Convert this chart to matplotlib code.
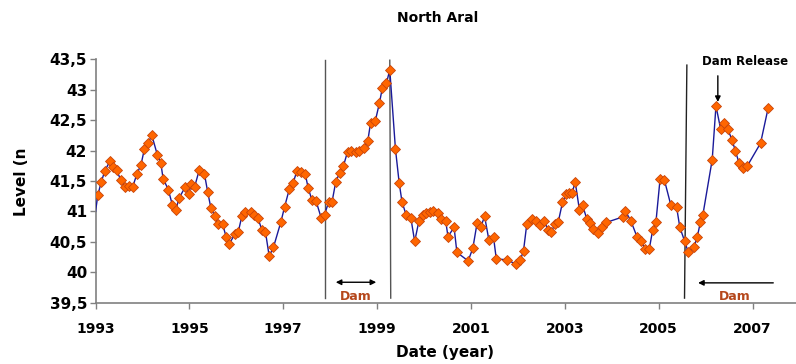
import matplotlib
matplotlib.use("Agg")
import matplotlib.pyplot as plt
from matplotlib.ticker import FixedLocator, FuncFormatter

# ---- data (decimal year, level in m) ----
years = [1993.00, 1993.05, 1993.12, 1993.20, 1993.31, 1993.38, 1993.45, 1993.54, 1993.63, 1993.71,
         1993.79, 1993.88, 1993.97, 1994.04, 1994.12, 1994.20, 1994.32, 1994.39, 1994.44, 1994.55,
         1994.64, 1994.71, 1994.78, 1994.91, 1994.99, 1995.03, 1995.11, 1995.21, 1995.32, 1995.39,
         1995.46, 1995.55, 1995.60, 1995.71, 1995.78, 1995.85, 1995.97, 1996.04, 1996.12, 1996.19,
         1996.31, 1996.38, 1996.46, 1996.55, 1996.62, 1996.70, 1996.79, 1996.95, 1997.03, 1997.13,
         1997.21, 1997.29, 1997.38, 1997.47, 1997.53, 1997.61, 1997.70, 1997.81, 1997.88, 1997.97,
         1998.04, 1998.12, 1998.20, 1998.28, 1998.37, 1998.45, 1998.54, 1998.62, 1998.71, 1998.80,
         1998.86, 1998.96, 1999.05, 1999.11, 1999.20, 1999.27, 1999.39, 1999.47, 1999.53, 1999.62,
         1999.72, 1999.80, 1999.89, 1999.98, 2000.05, 2000.12, 2000.20, 2000.30, 2000.37, 2000.46,
         2000.51, 2000.64, 2000.70, 2000.94, 2001.04, 2001.13, 2001.21, 2001.29, 2001.38, 2001.48,
         2001.54, 2001.76, 2001.95, 2002.05, 2002.12, 2002.19, 2002.29, 2002.38, 2002.47, 2002.56,
         2002.64, 2002.71, 2002.79, 2002.86, 2002.95, 2003.03, 2003.09, 2003.16, 2003.22, 2003.31,
         2003.38, 2003.47, 2003.54, 2003.61, 2003.71, 2003.79, 2003.88, 2004.23, 2004.29, 2004.41,
         2004.54, 2004.62, 2004.71, 2004.80, 2004.87, 2004.94, 2005.03, 2005.12, 2005.26, 2005.38,
         2005.45, 2005.55, 2005.63, 2005.75, 2005.82, 2005.89, 2005.94, 2006.14, 2006.22, 2006.32,
         2006.39, 2006.47, 2006.56, 2006.63, 2006.71, 2006.79, 2006.89, 2007.17, 2007.33]
levels = [41.00, 41.27, 41.48, 41.67, 41.83, 41.73, 41.68, 41.51, 41.40, 41.42,
          41.40, 41.61, 41.77, 42.02, 42.12, 42.25, 41.92, 41.80, 41.54, 41.36,
          41.10, 41.02, 41.22, 41.40, 41.28, 41.45, 41.40, 41.68, 41.62, 41.32,
          41.05, 40.92, 40.79, 40.79, 40.59, 40.47, 40.63, 40.66, 40.93, 40.99,
          40.99, 40.94, 40.89, 40.69, 40.67, 40.27, 40.41, 40.83, 41.08, 41.37,
          41.47, 41.66, 41.65, 41.61, 41.39, 41.19, 41.17, 40.89, 40.95, 41.16,
          41.16, 41.49, 41.63, 41.74, 41.98, 42.00, 41.97, 42.00, 42.04, 42.15,
          42.45, 42.48, 42.78, 43.02, 43.11, 43.32, 42.03, 41.47, 41.16, 40.94,
          40.89, 40.51, 40.84, 40.94, 40.97, 40.99, 41.00, 40.97, 40.87, 40.85,
          40.59, 40.74, 40.33, 40.19, 40.40, 40.81, 40.75, 40.92, 40.54, 40.58,
          40.22, 40.21, 40.14, 40.20, 40.36, 40.80, 40.87, 40.85, 40.78, 40.85,
          40.70, 40.67, 40.79, 40.83, 41.15, 41.29, 41.30, 41.31, 41.49, 41.03,
          41.10, 40.87, 40.81, 40.71, 40.65, 40.74, 40.82, 40.91, 41.01, 40.84,
          40.58, 40.51, 40.39, 40.39, 40.69, 40.82, 41.54, 41.52, 41.10, 41.08,
          40.74, 40.52, 40.33, 40.41, 40.58, 40.83, 40.94, 41.85, 42.73, 42.35,
          42.45, 42.35, 42.18, 42.00, 41.80, 41.72, 41.75, 42.12, 42.69]

x_ticks = [1993, 1995, 1997, 1999, 2001, 2003, 2005, 2007]
y_ticks = [39.5, 40, 40.5, 41, 41.5, 42, 42.5, 43, 43.5]

# annotation anchors
dam_lines = [(1997.88, 1997.88, 43.48), (1999.29, 1999.27, 43.48), (2005.55, 2005.60, 43.40)]
dam_arrow1 = (1998.06, 1999.04, 39.84)
dam_arrow2 = (2007.50, 2005.78, 39.83)

FONT = "DejaVu Sans"
DAM_COLOR = "#B5471B"

fig = plt.figure(figsize=(7.96, 3.64), dpi=100)
ax = fig.add_axes([0.12, 0.1676, 0.8844, 0.6703])

ax.plot(years, levels, color="#1A1A9A", lw=1.0, zorder=3, clip_on=True)
ax.plot(years[1:], levels[1:], linestyle="none", marker="D", markersize=5.5,
        markerfacecolor="#FF6600", markeredgecolor="#C8440A", markeredgewidth=0.6, zorder=4)

ax.set_xlim(1993, 2008)
ax.set_ylim(39.5, 43.5)
ax.xaxis.set_major_locator(FixedLocator(x_ticks))
ax.yaxis.set_major_locator(FixedLocator(y_ticks))
ax.yaxis.set_major_formatter(FuncFormatter(lambda v, p: ("%g" % v).replace(".", ",")))
ax.xaxis.set_major_formatter(FuncFormatter(lambda v, p: "%d" % v))

for s in ["top", "right"]:
    ax.spines[s].set_visible(False)
for s in ["left", "bottom"]:
    ax.spines[s].set_color("#808080")
    ax.spines[s].set_linewidth(1.2)
ax.tick_params(axis="both", direction="out", length=4, width=1, color="#808080")
ax.tick_params(axis="x", pad=10)
ax.tick_params(axis="y", pad=2)
for lab in ax.get_xticklabels() + ax.get_yticklabels():
    lab.set_fontfamily(FONT)
    lab.set_fontweight("bold")
    lab.set_fontsize(10)
for lab in ax.get_yticklabels():
    lab.set_fontsize(11)

# vertical dam lines
for i, (xb, xt, yt) in enumerate(dam_lines):
    ax.plot([xb, xt], [39.58, yt], color="#555555" if i < 2 else "#222222", lw=1.0, zorder=2)

# Dam arrows
ax.annotate("", xy=(dam_arrow1[1], dam_arrow1[2]), xytext=(dam_arrow1[0], dam_arrow1[2]),
            arrowprops=dict(arrowstyle="<|-|>", color="black", lw=1.0, mutation_scale=8))
ax.text((dam_arrow1[0] + dam_arrow1[1]) / 2, 39.60, "Dam", color=DAM_COLOR, fontsize=9,
        fontweight="bold", family=FONT, ha="center", va="center")
ax.annotate("", xy=(dam_arrow2[1], dam_arrow2[2]), xytext=(dam_arrow2[0], dam_arrow2[2]),
            arrowprops=dict(arrowstyle="-|>", color="black", lw=1.0, mutation_scale=8),
            annotation_clip=False)
ax.text(2006.61, 39.61, "Dam", color=DAM_COLOR, fontsize=9,
        fontweight="bold", family=FONT, ha="center", va="center")

# Dam Release
ax.text(2006.85, 43.46, "Dam Release", color="black", fontsize=8.5, fontweight="bold",
        family=FONT, ha="center", va="center", clip_on=False)
ax.annotate("", xy=(2006.26, 42.75), xytext=(2006.26, 43.27),
            arrowprops=dict(arrowstyle="-|>", color="black", lw=1.0, mutation_scale=8),
            annotation_clip=False)

fig.text(438 / 796, 1 - 18 / 364, "North Aral", ha="center", va="center", fontsize=10,
         fontweight="bold", family=FONT)
fig.text(22 / 796, 1 - 182 / 364, "Level (n", ha="center", va="center", rotation=90,
         fontsize=11, fontweight="bold", family=FONT)
fig.text(445 / 796, 1 - 352 / 364, "Date (year)", ha="center", va="center", fontsize=11,
         fontweight="bold", family=FONT)

fig.savefig("out.png", dpi=100)
